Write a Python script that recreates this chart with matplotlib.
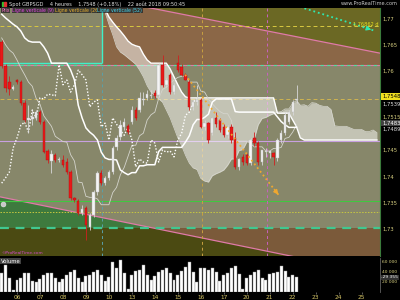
import matplotlib
matplotlib.use("Agg")
import matplotlib.pyplot as plt
from matplotlib.patches import Rectangle
import numpy as np

plt.rcParams['font.family'] = ['Liberation Sans Narrow', 'DejaVu Sans']

# Bougies 4 heures GBPSGD, du 06 au 22 aout
ouverture = [1.7656, 1.7611, 1.7580, 1.7567, 1.7584, 1.7580, 1.7540, 1.7508, 1.7510, 1.7512,
             1.7523, 1.7504, 1.7449, 1.7430, 1.7441, 1.7432, 1.7432, 1.7428, 1.7409, 1.7360,
             1.7354, 1.7331, 1.7341, 1.7305, 1.7327, 1.7371, 1.7407, 1.7388, 1.7398, 1.7409,
             1.7457, 1.7476, 1.7495, 1.7497, 1.7504, 1.7527, 1.7527, 1.7546, 1.7550, 1.7554,
             1.7559, 1.7556, 1.7613, 1.7575, 1.7594, 1.7561, 1.7616, 1.7609, 1.7594, 1.7580,
             1.7533, 1.7542, 1.7546, 1.7495, 1.7502, 1.7483, 1.7512, 1.7508, 1.7495, 1.7479,
             1.7495, 1.7474, 1.7419, 1.7438, 1.7441, 1.7426, 1.7474, 1.7464, 1.7428, 1.7447,
             1.7445, 1.7445, 1.7436, 1.7470, 1.7483, 1.7504, 1.7523, 1.7546]
haut = [1.7660, 1.7614, 1.7592, 1.7575, 1.7586, 1.7584, 1.7546, 1.7536, 1.7527, 1.7527,
        1.7527, 1.7508, 1.7453, 1.7451, 1.7445, 1.7438, 1.7441, 1.7436, 1.7413, 1.7362,
        1.7358, 1.7347, 1.7345, 1.7331, 1.7375, 1.7411, 1.7413, 1.7402, 1.7413, 1.7459,
        1.7479, 1.7508, 1.7512, 1.7500, 1.7535, 1.7533, 1.7561, 1.7561, 1.7565, 1.7565,
        1.7565, 1.7616, 1.7632, 1.7588, 1.7597, 1.7578, 1.7632, 1.7614, 1.7597, 1.7584,
        1.7546, 1.7575, 1.7550, 1.7508, 1.7504, 1.7514, 1.7523, 1.7512, 1.7500, 1.7498,
        1.7500, 1.7485, 1.7436, 1.7443, 1.7445, 1.7474, 1.7485, 1.7468, 1.7451, 1.7455,
        1.7451, 1.7447, 1.7474, 1.7489, 1.7523, 1.7527, 1.7546, 1.7575]
bas = [1.7607, 1.7561, 1.7556, 1.7565, 1.7576, 1.7536, 1.7504, 1.7483, 1.7498, 1.7508,
       1.7500, 1.7445, 1.7426, 1.7407, 1.7428, 1.7428, 1.7419, 1.7405, 1.7356, 1.7352,
       1.7327, 1.7327, 1.7280, 1.7299, 1.7323, 1.7366, 1.7385, 1.7385, 1.7394, 1.7405,
       1.7451, 1.7470, 1.7489, 1.7481, 1.7500, 1.7508, 1.7523, 1.7536, 1.7546, 1.7550,
       1.7550, 1.7552, 1.7571, 1.7571, 1.7557, 1.7557, 1.7599, 1.7592, 1.7584, 1.7527,
       1.7527, 1.7536, 1.7493, 1.7489, 1.7464, 1.7479, 1.7495, 1.7485, 1.7476, 1.7474,
       1.7464, 1.7415, 1.7413, 1.7423, 1.7423, 1.7423, 1.7459, 1.7423, 1.7423, 1.7438,
       1.7436, 1.7423, 1.7430, 1.7464, 1.7479, 1.7500, 1.7517, 1.7540]
cloture = [1.7611, 1.7569, 1.7567, 1.7571, 1.7580, 1.7540, 1.7508, 1.7512, 1.7514, 1.7523,
           1.7504, 1.7447, 1.7432, 1.7443, 1.7432, 1.7434, 1.7423, 1.7409, 1.7360, 1.7356,
           1.7331, 1.7339, 1.7308, 1.7327, 1.7371, 1.7407, 1.7388, 1.7398, 1.7409, 1.7455,
           1.7474, 1.7498, 1.7504, 1.7485, 1.7527, 1.7512, 1.7550, 1.7548, 1.7557, 1.7556,
           1.7554, 1.7613, 1.7575, 1.7584, 1.7561, 1.7575, 1.7603, 1.7594, 1.7584, 1.7533,
           1.7542, 1.7546, 1.7495, 1.7502, 1.7470, 1.7512, 1.7500, 1.7489, 1.7479, 1.7495,
           1.7470, 1.7419, 1.7434, 1.7428, 1.7426, 1.7470, 1.7464, 1.7428, 1.7451, 1.7447,
           1.7449, 1.7438, 1.7470, 1.7483, 1.7517, 1.7523, 1.7542, 1.7548]
volume = [38700, 54000, 27000, 4000, 24000, 28000, 37000, 37000, 22000, 20000,
          25000, 33000, 37000, 37000, 28000, 19000, 25000, 34000, 40000, 44000,
          27000, 19000, 31000, 34000, 39000, 43000, 34000, 21000, 29000, 59000,
          47000, 64000, 37000, 6000, 33000, 41000, 43000, 53000, 34000, 23000,
          32000, 39000, 43000, 48000, 37000, 23000, 34000, 41000, 49000, 60000,
          39000, 20000, 47000, 47000, 44000, 47000, 39000, 21000, 33000, 37000,
          47000, 51000, 36000, 5000, 28000, 34000, 39000, 43000, 28000, 23000,
          36000, 37000, 39000, 51000, 41000, 29000, 33000, 29355]

# Ichimoku
tenkan = [1.7664, 1.7651, 1.7641, 1.7635, 1.7622, 1.7607, 1.7594, 1.7580, 1.7572, 1.7549,
          1.7538, 1.7516, 1.7506, 1.7496, 1.7477, 1.7472, 1.7467, 1.7466, 1.7442, 1.7430,
          1.7390, 1.7389, 1.7363, 1.7361, 1.7361, 1.7358, 1.7347, 1.7347, 1.7347, 1.7370,
          1.7380, 1.7404, 1.7418, 1.7439, 1.7460, 1.7460, 1.7478, 1.7483, 1.7508, 1.7518,
          1.7523, 1.7549, 1.7566, 1.7570, 1.7578, 1.7584, 1.7589, 1.7591, 1.7591, 1.7580,
          1.7580, 1.7580, 1.7563, 1.7561, 1.7548, 1.7539, 1.7531, 1.7524, 1.7520, 1.7520,
          1.7507, 1.7469, 1.7468, 1.7468, 1.7468, 1.7463, 1.7457, 1.7457, 1.7457, 1.7449,
          1.7449, 1.7454, 1.7454, 1.7456, 1.7473, 1.7475, 1.7485, 1.7499]
kijun = [1.7709, 1.7702, 1.7696, 1.7690, 1.7685, 1.7677, 1.7664, 1.7658, 1.7656, 1.7656,
         1.7656, 1.7647, 1.7635, 1.7616, 1.7616, 1.7616, 1.7616, 1.7616, 1.7603, 1.7584,
         1.7536, 1.7512, 1.7493, 1.7485, 1.7479, 1.7470, 1.7447, 1.7436, 1.7433, 1.7433,
         1.7432, 1.7413, 1.7408, 1.7404, 1.7408, 1.7408, 1.7421, 1.7421, 1.7423, 1.7423,
         1.7423, 1.7448, 1.7456, 1.7456, 1.7456, 1.7456, 1.7456, 1.7456, 1.7466, 1.7478,
         1.7499, 1.7509, 1.7509, 1.7513, 1.7519, 1.7542, 1.7548, 1.7548, 1.7548, 1.7548,
         1.7548, 1.7524, 1.7523, 1.7523, 1.7523, 1.7523, 1.7523, 1.7523, 1.7523, 1.7523,
         1.7523, 1.7523, 1.7514, 1.7505, 1.7499, 1.7494, 1.7494, 1.7494]
debut_nuage = 27
ssa = [1.7713, 1.7690, 1.7670, 1.7647, 1.7637, 1.7632, 1.7626, 1.7620, 1.7614, 1.7603,
       1.7590, 1.7573, 1.7561, 1.7554, 1.7548, 1.7542, 1.7527, 1.7512, 1.7493, 1.7474,
       1.7459, 1.7441, 1.7426, 1.7417, 1.7414, 1.7397, 1.7392, 1.7390, 1.7402, 1.7406,
       1.7409, 1.7413, 1.7422, 1.7434, 1.7434, 1.7450, 1.7452, 1.7466, 1.7471, 1.7473,
       1.7499, 1.7511, 1.7513, 1.7517, 1.7520, 1.7523, 1.7524, 1.7529, 1.7529, 1.7540,
       1.7545, 1.7536, 1.7537, 1.7534, 1.7541, 1.7540, 1.7536, 1.7534, 1.7534, 1.7528,
       1.7497, 1.7496, 1.7496, 1.7496, 1.7493, 1.7490, 1.7490, 1.7490, 1.7486, 1.7486,
       1.7489, 1.7484]
ssb = [1.7719, 1.7704, 1.7694, 1.7685, 1.7677, 1.7668, 1.7658, 1.7652, 1.7649, 1.7647,
       1.7633, 1.7622, 1.7616, 1.7616, 1.7616, 1.7616, 1.7616, 1.7605, 1.7590, 1.7575,
       1.7561, 1.7552] + [1.7550] * 23 + [1.7521, 1.7521, 1.7521, 1.7521, 1.7508, 1.7495,
       1.7474] + [1.7470] * 20
decalage_chikou = 26

# Lignes horizontales et verticales
niveau_rect = 1.7613
niveau_haut_jaune = 1.7686
niveau_prix = 1.7548
niveau_lilas = 1.7468
niveau_vert = 1.7355
niveau_jaune_bas = 1.7333
niveau_support = 1.7303
vert_52, vert_26, vert_9 = 26.2, 52.2, 69.3

# Droites de tendance (debut, fin)
oblique_haut_x, oblique_haut_y = [26.2, 98.8], [1.7739, 1.7635]
oblique_bas_x, oblique_bas_y = [-0.44, 98.8], [1.7362, 1.7215]
fleche_orange = [(47.9, 1.7594), (72.7, 1.7362)]
fleche_cyan = [(77.9, 1.7723), (97.2, 1.7678)]

jours = ["06", "07", "08", "09", "10", "13", "14", "15", "16", "17", "20", "21", "22", "23", "24", "25"]
pos_jours = [4, 10, 16, 22, 28, 34, 40, 46, 52, 58, 64, 70, 76, 82, 88, 94]

XMIN, XMAX = -0.44, 98.8
YMIN, YMAX = 1.72496, 1.77208

fig = plt.figure(figsize=(4, 3), dpi=100, facecolor="black")
ax = fig.add_axes([0, 0.1467, 0.95, 0.8266])
ax_vol = fig.add_axes([0, 0.0267, 0.95, 0.1133])
ax.set_xlim(XMIN, XMAX)
ax.set_ylim(YMIN, YMAX)
ax.set_facecolor("#87876a")

# Zones de couleur
ax.fill_between([vert_52, XMAX], niveau_rect, YMAX, color="#8b6747", lw=0, zorder=0)
ax.fill([oblique_haut_x[0], oblique_haut_x[1], XMAX, vert_52],
        [oblique_haut_y[0], oblique_haut_y[1], YMAX + 0.01, YMAX + 0.01], color="#6b6824", lw=0, zorder=0)
pente = (oblique_bas_y[1] - oblique_bas_y[0]) / (oblique_bas_x[1] - oblique_bas_x[0])
x_cross = oblique_bas_x[0] + (niveau_support - oblique_bas_y[0]) / pente
ax.fill([XMIN, XMAX, XMAX, XMIN], [YMIN - 0.01, YMIN - 0.01, niveau_support, niveau_support],
        color="#7b5a3a", lw=0, zorder=0)
ax.fill([oblique_bas_x[0], x_cross, XMIN], [oblique_bas_y[0], niveau_support, niveau_support],
        color="#3e7a3e", lw=0, zorder=0)
ax.fill([XMIN, x_cross, oblique_bas_x[1], XMAX, XMIN],
        [niveau_support, niveau_support, oblique_bas_y[1], YMIN - 0.01, YMIN - 0.01],
        color="#4b4a12", lw=0, zorder=0)
ax.plot(oblique_haut_x, oblique_haut_y, color="#e07aa8", lw=0.9, zorder=1)
ax.plot(oblique_bas_x, oblique_bas_y, color="#e07aa8", lw=0.9, zorder=1)

# Niveaux horizontaux
ax.axhline(niveau_rect, color="#e07aa8", lw=0.8, zorder=1)
ax.axhline(niveau_rect, color="#50e0a0", lw=0.8, ls=(0, (3, 3)), zorder=1)
ax.hlines(niveau_rect + 0.0004, XMIN, vert_52, color="#40f0c8", lw=1.0, zorder=1)
ax.axhline(niveau_haut_jaune, color="#d8c840", lw=0.7, ls=(0, (4, 3)), zorder=1)
ax.axhline(niveau_prix, color="#d0b450", lw=0.7, ls=(0, (4, 3)), zorder=1)
ax.axhline(niveau_lilas, color="#c8a0e0", lw=0.8, zorder=1)
ax.axhline(niveau_vert, color="#40c840", lw=0.8, zorder=1)
ax.axhline(niveau_jaune_bas, color="#c8c840", lw=0.7, ls=(0, (1.5, 1.5)), zorder=1)
ax.axhline(niveau_support, color="#40c890", lw=1.6, ls=(0, (4, 3)), zorder=1)

# Lignes verticales
ax.vlines(vert_52, niveau_rect + 0.0004, YMAX, color="#40f0c8", lw=1.0, zorder=1)
ax.vlines(vert_52, YMIN, niveau_rect, color="#5aa0a8", lw=0.7, ls=(0, (3, 3)), zorder=1)
ax.axvline(vert_26, color="#c8a040", lw=0.7, ls=(0, (3, 3)), zorder=1)
ax.axvline(vert_9, color="#c860c0", lw=0.7, ls=(0, (3, 3)), zorder=1)

# Nuage Ichimoku
x_nuage = np.arange(debut_nuage, debut_nuage + len(ssa))
ax.fill_between(x_nuage, ssa, ssb, color="white", alpha=0.5, lw=0, zorder=2)
ax.plot(x_nuage, ssa, color="#d8d8d0", lw=0.5, zorder=3)
ax.plot(x_nuage, ssb, color="white", lw=1.0, zorder=3)

x = np.arange(len(cloture))
ax.plot(x, tenkan, color="#d4d4cc", lw=0.6, zorder=3)
ax.plot(x, kijun, color="white", lw=1.1, zorder=3)
ax.plot(x[:-decalage_chikou], cloture[decalage_chikou:], color="white", lw=1.0,
        ls=(0, (1, 1.3)), zorder=3)

# Bougies
for i in x:
    o, h, l, c = ouverture[i], haut[i], bas[i], cloture[i]
    hausse = c >= o
    ax.vlines(i, l, h, color="#d8d8d8" if hausse else "#d02020", lw=0.6, zorder=4)
    ax.bar(i, max(abs(c - o), 0.00012), bottom=min(o, c), width=0.62,
           color="#f4f4f4" if hausse else "#e81818",
           edgecolor="#b8b8b8" if hausse else "#b01010", lw=0.3, zorder=5)

# Fleches
(x0, y0), (x1, y1) = fleche_orange
ax.plot([x0, x1], [y0, y1], color="#f0a830", lw=1.3, ls=(0, (1, 1.6)), zorder=6)
ax.annotate("", xy=(x1, y1), xytext=(x1 - 0.08 * (x1 - x0), y1 - 0.08 * (y1 - y0)),
            arrowprops=dict(arrowstyle="-|>", color="#f0a830", lw=0.8, mutation_scale=7), zorder=6)
(x0, y0), (x1, y1) = fleche_cyan
ax.plot([x0, x1], [y0, y1], color="#30e8b0", lw=1.3, ls=(0, (1, 1.6)), zorder=6)
ax.annotate("", xy=(x1, y1), xytext=(x1 - 0.1 * (x1 - x0), y1 - 0.1 * (y1 - y0)),
            arrowprops=dict(arrowstyle="-|>", color="#30e8b0", lw=0.8, mutation_scale=7), zorder=6)

ax.plot(0.4, 1.7348, "o", ms=3.5, color="#c8c8c8", mec="#e8e8e8", mew=0.4, zorder=6)
ax.text(0.003, 0.004, "©ProRealTime.com", transform=ax.transAxes, color="#d048c8",
        fontsize=3.2, va="bottom", zorder=7)
ax.text(98.3, niveau_haut_jaune + 0.0004, "1,76862 d", color="#e8e020", fontsize=3.6,
        ha="right", va="center", zorder=7)

# Axe des prix a droite
ax.set_xticks([])
ax.set_yticks([])
for s in ax.spines.values():
    s.set_visible(False)
ax.spines["right"].set_visible(True)
ax.spines["right"].set_color("#3a7a3a")
ax.spines["right"].set_linewidth(0.8)
tr = ax.get_yaxis_transform()
prix_ticks = [1.77, 1.765, 1.76, 1.745, 1.74, 1.735, 1.73]
for p in prix_ticks:
    ax.text(1.006, p, f"{p:g}".replace(".", ","), transform=tr, color="#d8d080",
            fontsize=3.8, va="center", ha="left")
ax.text(1.006, 1.7553, "1,7548", transform=tr, color="black", fontsize=3.8, va="center",
        ha="left", bbox=dict(boxstyle="square,pad=0.15", fc="#f0e020", ec="none"))
ax.text(1.006, 1.7538, "1,7539", transform=tr, color="#e0e0e0", fontsize=3.8, va="center", ha="left")
ax.text(1.006, 1.7514, "1,7515", transform=tr, color="#d8d080", fontsize=3.8, va="center", ha="left")
ax.text(1.006, 1.7502, "1,7483", transform=tr, color="white", fontsize=3.8, va="center",
        ha="left", bbox=dict(boxstyle="square,pad=0.15", fc="#404040", ec="none"))
ax.text(1.006, 1.7490, "1,7489", transform=tr, color="#e0e0e0", fontsize=3.8, va="center", ha="left")

# Volume
ax_vol.set_facecolor("black")
ax_vol.bar(x, volume, width=0.78, color="white", edgecolor="#909090", lw=0.3)
ax_vol.set_xlim(XMIN, XMAX)
ax_vol.set_ylim(0, 68000)
ax_vol.set_yticks([])
ax_vol.set_xticks(pos_jours)
ax_vol.set_xticklabels(jours)
ax_vol.tick_params(axis="x", colors="#808080", labelcolor="#d8c868", labelsize=4.2,
                   length=1.5, width=0.5, pad=1)
for s in ax_vol.spines.values():
    s.set_visible(False)
ax_vol.spines["right"].set_visible(True)
ax_vol.spines["right"].set_color("#606060")
ax_vol.spines["right"].set_linewidth(0.6)
trv = ax_vol.get_yaxis_transform()
for v in [60000, 40000, 20000]:
    ax_vol.text(1.006, v, f"{v // 1000} 000", transform=trv, color="#d8d080", fontsize=3.2,
                va="center", ha="left")
ax_vol.text(1.003, volume[-1], "-29 355", transform=trv, color="white", fontsize=3.2,
            va="center", ha="left", bbox=dict(boxstyle="square,pad=0.1", fc="#303030", ec="none"))
ax_vol.text(0.002, 0.98, "Volume", transform=ax_vol.transAxes, color="white", fontsize=3.8,
            va="top", ha="left", bbox=dict(boxstyle="square,pad=0.15", fc="#404040", ec="none"))

# Barre du haut
fig.add_artist(Rectangle((0.004, 0.981), 0.004, 0.012, transform=fig.transFigure, color="#30c030"))
fig.add_artist(Rectangle((0.010, 0.981), 0.004, 0.012, transform=fig.transFigure, color="#e03030"))
fig.text(0.022, 0.987, "Spot GBPSGD    4 heures    1,7548 (+0,18%)    22 août 2018 09:50:45",
         color="#e0e0e0", fontsize=3.6, va="center")
fig.text(0.995, 0.987, "www.ProRealTime.com", color="#c8c8c8", fontsize=3.6, va="center", ha="right")
legende = [("Prix", "#ff70c8", 0.003), ("Ligne verticale (9)", "#e048e0", 0.03),
           ("Ligne verticale (26)", "#e8b030", 0.137), ("Ligne verticale (52)", "#40d8f0", 0.243)]
for texte, couleur, xpos in legende:
    fig.text(xpos, 0.966, texte, color=couleur, fontsize=3.3, va="center",
             bbox=dict(boxstyle="square,pad=0.1", fc="#282828", ec="none", alpha=0.8))

fig.savefig("out.png", dpi=100, facecolor="black")
